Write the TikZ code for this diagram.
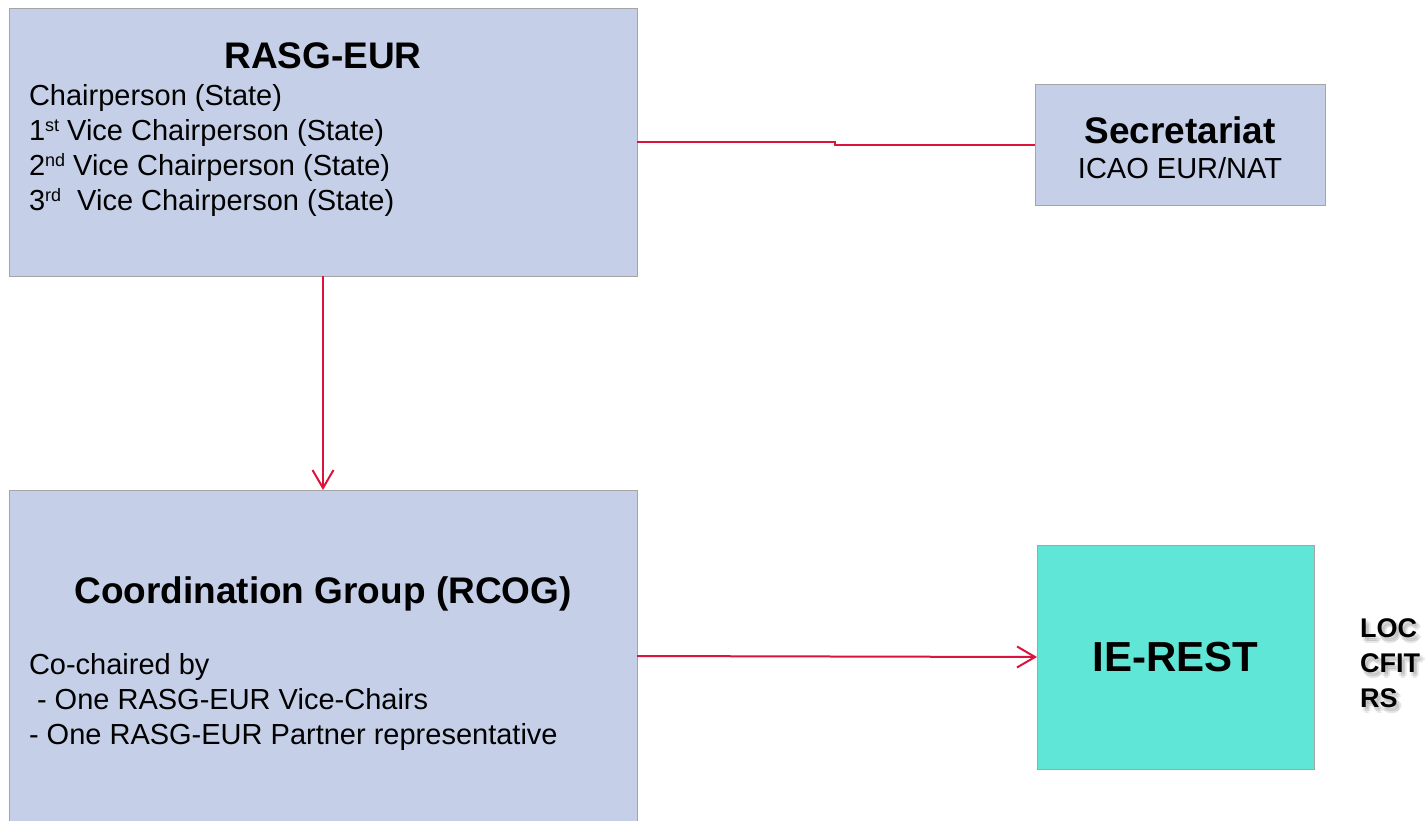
\documentclass[tikz,border=0pt]{standalone}
\usepackage{fontspec}
\setmainfont{Liberation Sans}
\usetikzlibrary{arrows.meta,positioning}
\definecolor{boxfill}{RGB}{197,208,232}
\definecolor{boxline}{RGB}{165,165,165}
\definecolor{iefill}{RGB}{96,230,214}
\definecolor{linkred}{RGB}{220,20,60}
\newcommand\ordsup[1]{\raisebox{4.5pt}{\fontsize{9}{10}\selectfont #1}}

\begin{document}
\begin{tikzpicture}[x=0.5pt,y=-0.5pt,every node/.style={inner sep=0pt,outer sep=0pt},
    panel/.style={draw=boxline,fill=boxfill,line width=0.5pt},
    headtext/.style={font=\fontsize{18.5}{22}\selectfont\bfseries},
    bodytext/.style={font=\fontsize{14.5}{17.5}\selectfont},
    sidetext/.style={font=\fontsize{13.5}{16}\selectfont\bfseries},
    link/.style={draw=linkred,line width=1pt},
    >={Straight Barb[length=9pt,width=10.5pt]}]
  \useasboundingbox (0,0) rectangle (1427,820);
  % boxes
  \node[panel,minimum width=314pt,minimum height=134pt](rasg) at (323,142){};
  \node[panel,minimum width=145pt,minimum height=60.5pt](sec) at (1180,144.5){};
  \node[panel,minimum width=314pt,minimum height=166pt](rcog) at (323,656){};
  \node[panel,fill=iefill,minimum width=138.5pt,minimum height=112pt,
    font=\fontsize{21}{25}\selectfont\bfseries](ie) at (1175.5,657){IE-REST};
  % texts
  \node[headtext,anchor=base](rasgtitle) at (323,68){RASG-EUR};
  \foreach \txt [count=\i] in {Chairperson (State),
      1\ordsup{st} Vice Chairperson (State),
      2\ordsup{nd} Vice Chairperson (State),
      3\ordsup{rd}\ \ Vice Chairperson (State)}
    \node[bodytext,anchor=base west](rasgline\i) at (29,{70+35*\i}){\txt};
  \node[headtext,anchor=base](sectitle) at (1180,143){Secretariat};
  \node[bodytext,anchor=base](secsub) at (1180,178){ICAO EUR/NAT};
  \node[headtext,anchor=base](rcogtitle) at (323,603){Coordination Group (RCOG)};
  \foreach \txt [count=\i] in {Co-chaired by,
      \ - One RASG-EUR Vice-Chairs,
      - One RASG-EUR Partner representative}
    \node[bodytext,anchor=base west](rcogline\i) at (29,{639+35*\i}){\txt};
  % side list with soft shadow
  \foreach \txt [count=\i] in {LOC,CFIT,RS}{
    \foreach \dx/\dy [count=\j] in {1/4,5/4,3/2,3/6}
      \node[sidetext,text=black!60,opacity=0.15,anchor=base west](locsh\i\j)
        at ({1360+\dx},{602+35*\i+\dy}){\txt};
    \node[sidetext,anchor=base west](loc\i) at (1360,{602+35*\i}){\txt};
  }
  % connectors
  \coordinate (bend) at (835,142);
  \draw[link](rasg.east|-bend)--(bend)--(bend|-sec.west)--(sec.west);
  \draw[link,->](rasg.south)--(rcog.north);
  \draw[link,->](rcog.east)--(ie.west);
\end{tikzpicture}
\end{document}
